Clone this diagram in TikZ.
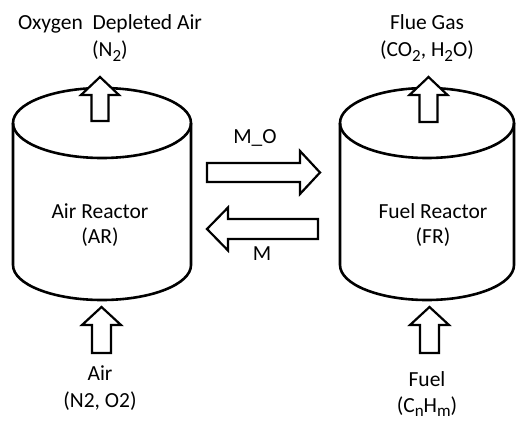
\documentclass[tikz,border=0pt]{standalone}
\usepackage{fontspec}
\setmainfont{Carlito}
\newcommand{\subtxt}[1]{\raisebox{-0.4ex}{\fontsize{17}{17}\selectfont #1}}
\tikzset{
  lbl/.style={font=\fontsize{21.5}{25}\selectfont, align=center, inner sep=0pt},
  vessel/.style={line width=2.6pt},
  arrowline/.style={line width=2.2pt, fill=white, line join=miter},
  % block arrow: length, shaft half width, head half width, head length
  pics/blockarrow/.style n args={4}{code={
    \draw[arrowline] (0,-#2) -- ({#1-#4},-#2) -- ({#1-#4},-#3) -- (#1,0)
      -- ({#1-#4},#3) -- ({#1-#4},#2) -- (0,#2) -- cycle;
  }},
}
\begin{document}
\begin{tikzpicture}[x=1pt,y=-1pt]
\useasboundingbox (0,0) rectangle (516,420);

% air reactor
\draw[vessel] (102,123) ellipse [x radius=89, y radius=35];
\draw[vessel] (13,123) -- (13,265) arc [start angle=180, end angle=0, x radius=89, y radius=35] -- (191,123);
% fuel reactor
\draw[vessel] (427,123) ellipse [x radius=87, y radius=35];
\draw[vessel] (340,123) -- (340,265) arc [start angle=180, end angle=0, x radius=87, y radius=35] -- (514,123);

% streams in and out
\pic (outAR) [rotate=90] at (100,121) {blockarrow={44}{8.5}{19}{18}};
\pic (outFR) [rotate=90] at (428.5,122) {blockarrow={45}{9}{19}{18}};
\pic (inAR) [rotate=90] at (101.5,353) {blockarrow={46}{9.5}{19.5}{18}};
\pic (inFR) [rotate=90] at (429.5,353) {blockarrow={46}{9.5}{19.5}{18}};
% solid circulation
\pic (toFR) at (207,172.5) {blockarrow={113}{9.5}{21.5}{20}};
\pic (toAR) [rotate=180] at (318,229) {blockarrow={111}{10}{21.5}{21}};

% labels
\node[lbl] (depleted) at (110,38) {Oxygen\ \ Depleted Air\\[2pt](N\subtxt{2})};
\node[lbl] (flue) at (427,38) {Flue Gas\\[2pt](CO\subtxt{2}, H\subtxt{2}O)};
\node[lbl] (ar) at (100,225) {Air Reactor\\(AR)};
\node[lbl] (fr) at (433,225) {Fuel Reactor\\(FR)};
\node[lbl, anchor=base] (mo) at (255,143) {M\_O};
\node[lbl, anchor=base] (m) at (262,260) {M};
\node[lbl] (air) at (100,388) {Air\\[2pt](N2, O2)};
\node[lbl] (fuel) at (427,394) {Fuel\\[1pt](C\subtxt{n}H\subtxt{m})};
\end{tikzpicture}
\end{document}
